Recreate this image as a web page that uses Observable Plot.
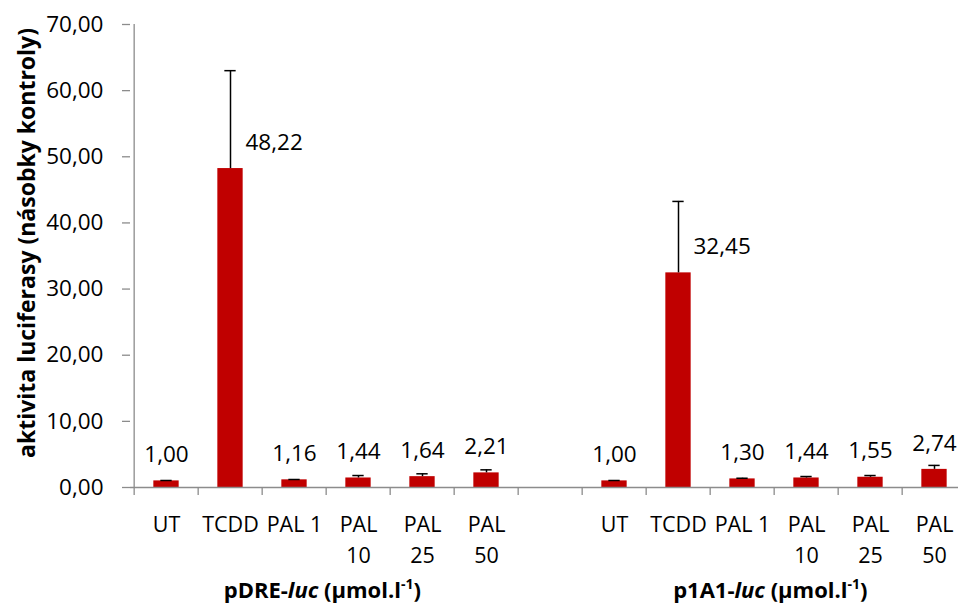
<!DOCTYPE html>
<html><head><meta charset="utf-8">
<script src="https://cdn.jsdelivr.net/npm/d3@7"></script>
<script src="https://cdn.jsdelivr.net/npm/@observablehq/plot@0.6"></script>
<style>
html,body{margin:0;padding:0;background:#fff;overflow:hidden;}
</style></head><body><div id="chart"></div>
<script>
const groups = ["pDRE", "p1A1"];
const groupNames = ["pDRE-", "p1A1-"];
const treatments = ["UT", "TCDD", "PAL 1", "PAL 10", "PAL 25", "PAL 50"];
const tickLabels = ["UT", "TCDD", "PAL 1", "PAL\n10", "PAL\n25", "PAL\n50"];
const pdreValues = [1.00, 48.22, 1.16, 1.44, 1.64, 2.21];
const pdreErrors = [0.06, 14.8, 0.05, 0.37, 0.43, 0.46];
const p1a1Values = [1.00, 32.45, 1.30, 1.44, 1.55, 2.74];
const p1a1Errors = [0.06, 10.8, 0.10, 0.22, 0.26, 0.60];
const yTicks = [0, 10, 20, 30, 40, 50, 60, 70];
const yTitle = "aktivita luciferasy (násobky kontroly)";

const values = [pdreValues, p1a1Values];
const errors = [pdreErrors, p1a1Errors];
const rows = [];
groups.forEach((g, gi) => treatments.forEach((t, ti) => rows.push({
  key: g + "|" + t, group: g, treatment: t, label: tickLabels[ti],
  value: values[gi][ti], error: errors[gi][ti]
})));
const domain = [...rows.filter(d => d.group === groups[0]).map(d => d.key), "gap",
                ...rows.filter(d => d.group === groups[1]).map(d => d.key)];
const labelOf = new Map(rows.map(d => [d.key, d.label]));

const W = 958, H = 607;
const left = 130, step = 64.67;
const xRange = [left, left + domain.length * step];
const barInset = (step - 26) / 2;
const capInset = (step - 12) / 2;
const fmt = v => v.toFixed(2).replace(".", ",");
const font = "'Open Sans', sans-serif";

const chart = Plot.plot({
  width: W, height: H,
  marginLeft: 130, marginTop: 24, marginBottom: 120, marginRight: 0,
  style: {fontFamily: font, fontSize: "22px", color: "#000", background: "#fff"},
  x: {domain, range: xRange, padding: 0},
  y: {domain: [0, 70]},
  marks: [
    Plot.barY(rows, {x: "key", y: "value", fill: "#C00000", insetLeft: barInset, insetRight: barInset}),
    Plot.ruleX(rows, {x: "key", y1: "value", y2: d => d.value + d.error, stroke: "#000", strokeWidth: 1.5}),
    Plot.tickY(rows, {x: "key", y: d => d.value + d.error, stroke: "#000", strokeWidth: 1.5, insetLeft: capInset, insetRight: capInset}),
    Plot.ruleY([0], {stroke: "#8c8c8c", strokeWidth: 1.3}),
    Plot.ruleX([domain[0]], {y1: 0, y2: 70, dx: -step / 2, stroke: "#8c8c8c", strokeWidth: 1.3}),
    Plot.axisX({ticks: domain, tickFormat: () => "", tickSize: 8, dx: -step / 2, stroke: "#8c8c8c", strokeWidth: 1.3, label: null}),
    Plot.axisX({ticks: domain, tickFormat: k => labelOf.get(k) ?? "", tickSize: 0, tickPadding: 22, lineHeight: 1.45, fontSize: 21.5, fill: "#000", label: null}),
    Plot.axisY({ticks: yTicks, tickFormat: fmt, tickSize: 8, tickPadding: 19, label: null, stroke: "#8c8c8c", strokeWidth: 1.3, fill: "#000", fontSize: 22.5}),
    Plot.text(rows.filter(d => d.treatment !== "TCDD"), {x: "key", y: "value", text: d => fmt(d.value), dy: -26, lineAnchor: "middle", fill: "#000", fontSize: 22.5}),
    Plot.text(rows.filter(d => d.treatment === "TCDD"), {x: "key", y: "value", text: d => fmt(d.value), dy: -26, dx: 15, textAnchor: "start", lineAnchor: "middle", fill: "#000", fontSize: 22.5}),
    Plot.text([yTitle], {frameAnchor: "left", rotate: -90, dx: -103, dy: -13, fontWeight: "bold", fontSize: 23, fill: "#000", lineAnchor: "middle", textAnchor: "middle"})
  ]
});

// group titles with rich text (italic "luc", superscript "-1")
const xs = chart.scale("x");
const offset = xs.apply(domain[0]) - xRange[0];
const svg = d3.select(chart);
groups.forEach((g, gi) => {
  const keys = rows.filter(d => d.group === g).map(d => d.key);
  const cx = (xs.apply(keys[0]) + xs.apply(keys[keys.length - 1])) / 2 - offset + step / 2;
  const t = svg.append("text")
    .attr("x", cx).attr("y", 598)
    .attr("text-anchor", "middle")
    .attr("font-family", font).attr("font-size", 22).attr("font-weight", "bold").attr("fill", "#000");
  t.append("tspan").text(groupNames[gi]);
  t.append("tspan").attr("font-style", "italic").text("luc");
  t.append("tspan").text(" (µmol.l");
  t.append("tspan").attr("font-size", 14).attr("dy", -9).text("-1");
  t.append("tspan").attr("dy", 9).text(")");
});

document.getElementById("chart").appendChild(chart);
</script></body></html>
